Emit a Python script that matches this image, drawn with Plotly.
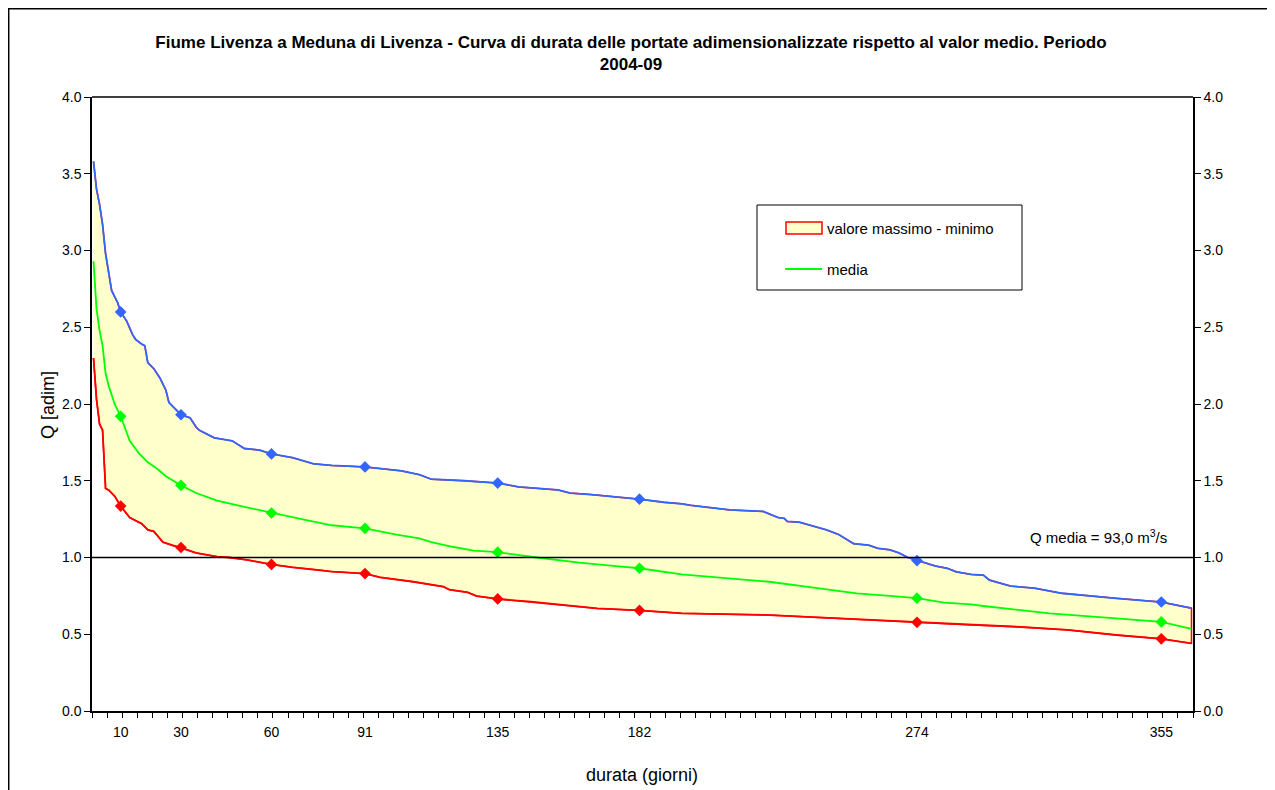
import plotly.graph_objects as go

# ---- data ----
max_days = [1, 2, 3, 4, 5, 6, 7, 8, 9, 10, 11, 12, 14, 15, 17, 18, 19, 21, 23, 25, 26, 27, 28, 30,
            33, 35, 36, 41, 47, 51, 56, 60, 67, 74, 80, 91, 103, 109, 113, 124, 135, 142, 155, 159,
            166, 177, 182, 190, 196, 199, 212, 223, 228, 230, 231, 235, 240, 244, 248, 253, 258, 261,
            265, 268, 271, 274, 280, 284, 287, 292, 296, 298, 305, 313, 322, 340, 355, 365]
max_vals = [3.58, 3.40, 3.30, 3.17, 2.98, 2.87, 2.74, 2.70, 2.66, 2.60, 2.57, 2.54, 2.45, 2.42, 2.39, 2.38,
            2.27, 2.23, 2.17, 2.09, 2.01, 1.99, 1.97, 1.93, 1.91, 1.85, 1.83, 1.78, 1.76, 1.71, 1.70, 1.675,
            1.65, 1.61, 1.60, 1.59, 1.565, 1.54, 1.51, 1.50, 1.485, 1.46, 1.44, 1.42, 1.41, 1.39, 1.38,
            1.36, 1.35, 1.34, 1.31, 1.30, 1.26, 1.255, 1.235, 1.23, 1.20, 1.18, 1.15, 1.09, 1.08, 1.06,
            1.05, 1.03, 1.00, 0.98, 0.945, 0.93, 0.907, 0.89, 0.885, 0.853, 0.814, 0.80, 0.767, 0.734,
            0.71, 0.67]

mean_days = [1, 2, 3, 4, 5, 6, 8, 10, 13, 16, 19, 22, 25, 30, 35, 42, 51, 60, 70, 80, 91, 101, 109,
             113, 120, 127, 135, 148, 162, 176, 182, 196, 225, 241, 254, 266, 274, 283, 292, 296, 318,
             340, 355, 365]
mean_vals = [2.93, 2.62, 2.48, 2.38, 2.20, 2.12, 2.00, 1.92, 1.76, 1.68, 1.62, 1.58, 1.53, 1.47, 1.42,
             1.37, 1.33, 1.29, 1.25, 1.21, 1.19, 1.15, 1.125, 1.10, 1.07, 1.045, 1.035, 1.00, 0.966,
             0.94, 0.93, 0.89, 0.842, 0.80, 0.766, 0.749, 0.735, 0.706, 0.695, 0.684, 0.636, 0.604,
             0.58, 0.535]

min_days = [1, 2, 3, 4, 5, 6, 8, 10, 13, 17, 19, 21, 24, 27, 30, 35, 42, 46, 52, 60, 67, 76, 80, 91,
            96, 107, 117, 119, 125, 128, 135, 146, 162, 168, 182, 196, 225, 252, 270, 274, 292, 307,
            324, 340, 355, 365]
min_vals = [2.30, 2.03, 1.87, 1.83, 1.45, 1.44, 1.40, 1.335, 1.26, 1.22, 1.18, 1.17, 1.10, 1.08, 1.065,
            1.03, 1.005, 1.00, 0.984, 0.955, 0.936, 0.919, 0.908, 0.895, 0.871, 0.842, 0.81, 0.79,
            0.773, 0.749, 0.73, 0.712, 0.68, 0.668, 0.655, 0.636, 0.625, 0.60, 0.582, 0.578, 0.56,
            0.549, 0.528, 0.495, 0.47, 0.44]

marker_days = [10, 30, 60, 91, 135, 182, 274, 355]
max_marks = [2.60, 1.93, 1.675, 1.59, 1.485, 1.38, 0.98, 0.71]
mean_marks = [1.92, 1.47, 1.29, 1.19, 1.035, 0.93, 0.735, 0.58]
min_marks = [1.335, 1.065, 0.955, 0.895, 0.73, 0.655, 0.578, 0.47]

tick_labels = ["10", "30", "60", "91", "135", "182", "274", "355"]
q_media = 1.0
q_media_label = "Q media = 93,0 m<sup>3</sup>/s"
legend_labels = ["valore massimo - minimo", "media"]

BLUE = "#3366FF"
GREEN = "#00FF00"
RED = "#FF0000"
YELLOW = "#FFFFCC"
FONT = "Liberation Sans, Arial, sans-serif"

# page layout (page pixels; the page body adds an 8px offset)
OFF = 8
FW, FH = 1275 - OFF, 790 - OFF
L, T, W, H = 92, 97, 1101, 614   # plot area in page pixels


def px(xp):
    return (xp - L) / W


def py(yp):
    return (T + H - yp) / H


fig = go.Figure()

# band between max and min
fig.add_trace(go.Scatter(
    x=max_days + min_days[::-1], y=max_vals + min_vals[::-1],
    fill="toself", fillcolor=YELLOW, mode="lines",
    line=dict(color=RED, width=1.5), showlegend=False, hoverinfo="skip"))

fig.add_trace(go.Scatter(x=max_days, y=max_vals, mode="lines",
                         line=dict(color=BLUE, width=1.8), showlegend=False))
fig.add_trace(go.Scatter(x=min_days, y=min_vals, mode="lines",
                         line=dict(color=RED, width=1.8), showlegend=False))
fig.add_trace(go.Scatter(x=mean_days, y=mean_vals, mode="lines",
                         line=dict(color=GREEN, width=1.8), showlegend=False))

for vals, col in [(max_marks, BLUE), (mean_marks, GREEN), (min_marks, RED)]:
    fig.add_trace(go.Scatter(x=marker_days, y=vals, mode="markers",
                             marker=dict(symbol="diamond", size=9, color=col, line=dict(width=0)),
                             showlegend=False))

# invisible trace to activate the secondary axis
fig.add_trace(go.Scatter(x=[marker_days[0]], y=[q_media], yaxis="y2", mode="markers",
                         marker=dict(opacity=0), showlegend=False, hoverinfo="skip"))

# horizontal reference line
fig.add_shape(type="line", xref="paper", x0=0, x1=1, yref="y", y0=q_media, y1=q_media,
              line=dict(color="black", width=1.5))
fig.add_annotation(x=px(1169), y=q_media, xref="paper", yref="y", yshift=21, text=q_media_label,
                   showarrow=False, xanchor="right", yanchor="middle",
                   font=dict(family=FONT, size=15, color="black"))

# legend (drawn manually)
fig.add_shape(type="rect", xref="paper", yref="paper", x0=px(757), x1=px(1022), y0=py(290), y1=py(205),
              line=dict(color="black", width=1), fillcolor="white", layer="below")
fig.add_shape(type="rect", xref="paper", yref="paper", x0=px(786), x1=px(822), y0=py(234), y1=py(222),
              line=dict(color=RED, width=1.5), fillcolor=YELLOW)
fig.add_shape(type="line", xref="paper", yref="paper", x0=px(785), x1=px(822), y0=py(269), y1=py(269),
              line=dict(color=GREEN, width=2))
fig.add_annotation(x=px(825), y=py(228), xref="paper", yref="paper", text=legend_labels[0],
                   showarrow=False, xanchor="left", yanchor="middle", font=dict(size=15))
fig.add_annotation(x=px(825), y=py(269), xref="paper", yref="paper", text=legend_labels[1],
                   showarrow=False, xanchor="left", yanchor="middle", font=dict(size=15))

# axis titles
fig.add_annotation(x=px(48), y=py(405), xref="paper", yref="paper", text="Q [adim]", textangle=-90,
                   showarrow=False, xanchor="center", yanchor="middle", font=dict(size=18))
fig.add_annotation(x=px(642), y=py(775), xref="paper", yref="paper", text="durata (giorni)",
                   showarrow=False, xanchor="center", yanchor="middle", font=dict(size=18))

# outer chart frame
fig.add_shape(type="rect", xref="paper", yref="paper", x0=px(8.7), x1=px(1300), y0=py(820), y1=py(8.7),
              line=dict(color="black", width=1.5), fillcolor="rgba(0,0,0,0)")
# top border of the plot area
fig.add_shape(type="line", xref="paper", yref="paper", x0=0, x1=1, y0=1, y1=1,
              line=dict(color="black", width=1.5))

fig.update_layout(
    width=FW, height=FH,
    margin=dict(l=L - OFF, r=FW - (L - OFF) - W, t=T - OFF, b=FH - (T - OFF) - H, pad=0),
    paper_bgcolor="white", plot_bgcolor="white",
    font=dict(family=FONT, size=15, color="black"),
    title=dict(text="Fiume Livenza a Meduna di Livenza - Curva di durata delle portate adimensionalizzate rispetto al valor medio. Periodo<br>2004-09",
               x=(631 - OFF) / FW, xanchor="center", y=1 - (48 - OFF) / FH, yanchor="top",
               yref="container",
               font=dict(family=FONT, size=17, color="black", weight="bold")),
    xaxis=dict(range=[0.5, 365.5], tickmode="array", tickvals=marker_days, ticktext=tick_labels,
               ticks="", ticklabelstandoff=7, showgrid=False, zeroline=False, automargin=False,
               showline=True, linecolor="black", linewidth=1.5, mirror=False,
               minor=dict(ticks="outside", ticklen=5, tick0=0.5, dtick=5, tickcolor="black",
                          tickwidth=1, showgrid=False),
               tickfont=dict(size=14)),
    yaxis=dict(range=[0, 4], dtick=0.5, tickformat=".1f", ticks="outside", ticklen=6,
               tickcolor="black", showgrid=False, zeroline=False, showline=True, automargin=False,
               linecolor="black", linewidth=1.5, tickfont=dict(size=14)),
    yaxis2=dict(range=[0, 4], dtick=0.5, tickformat=".1f", ticks="outside", ticklen=6,
                tickcolor="black", overlaying="y", side="right", showgrid=False, zeroline=False,
                automargin=False, showline=True, linecolor="black", linewidth=1.5,
                tickfont=dict(size=14)),
    showlegend=False,
)

fig.write_html("out.html")
